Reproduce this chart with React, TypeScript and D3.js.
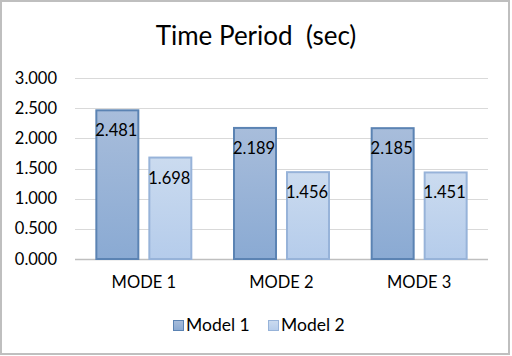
import React from "react";
import * as d3 from "d3";

const categories = ["MODE 1", "MODE 2", "MODE 3"];
const seriesNames = ["Model 1", "Model 2"];
const model1 = [2.481, 2.189, 2.185];
const model2 = [1.698, 1.456, 1.451];
const yTicks = [0, 0.5, 1, 1.5, 2, 2.5, 3];
const title = "Time Period  (sec)";

const W = 512;
const H = 356;
const plot = { left: 75, right: 488, top: 78, bottom: 259 };
const FONT = "Lato, 'Liberation Sans', sans-serif";

const fills = [
  { top: "#a8bddb", bottom: "#8aaad3", stroke: "#5b83b3" },
  { top: "#cbdbef", bottom: "#b5cceb", stroke: "#97b3d9" },
];

export default function App() {
  const x0 = d3
    .scaleBand<string>()
    .domain(categories)
    .range([plot.left, plot.right])
    .paddingInner(0.2955)
    .paddingOuter(0.2955 / 2);
  const x1 = d3
    .scaleBand<string>()
    .domain(seriesNames)
    .range([0, x0.bandwidth()])
    .paddingInner(0.17)
    .paddingOuter(0);
  const y = d3.scaleLinear().domain([0, 3]).range([plot.bottom, plot.top]);
  const fmt = d3.format(".3f");
  const series = [model1, model2];

  return (
    <svg
      width={W}
      height={H}
      style={{ position: "absolute", left: 0, top: 0, display: "block" }}
      fontFamily={FONT}
    >
      <defs>
        {fills.map((f, i) => (
          <linearGradient key={i} id={`g${i}`} x1="0" y1="0" x2="0" y2="1">
            <stop offset="0%" stopColor={f.top} />
            <stop offset="100%" stopColor={f.bottom} />
          </linearGradient>
        ))}
      </defs>
      <rect x={0} y={0} width={W} height={H} fill="#ffffff" />
      <rect x={1} y={1} width={508} height={353} fill="#ffffff" stroke="#bfbfbf" strokeWidth={2} />
      <text
        x={256}
        y={45}
        textAnchor="middle"
        fontSize={26}
        fill="#000"
        style={{ whiteSpace: "pre" }}
      >
        {title}
      </text>
      {yTicks.map((t) => (
        <g key={t}>
          <line
            x1={plot.left}
            x2={plot.right}
            y1={Math.round(y(t)) + 0.5}
            y2={Math.round(y(t)) + 0.5}
            stroke={t === 0 ? "#bfbfbf" : "#d9d9d9"}
            strokeWidth={t === 0 ? 1.5 : 1}
          />
          <text x={57} y={y(t) + 5.5} textAnchor="end" fontSize={16.5} fill="#000">
            {fmt(t)}
          </text>
        </g>
      ))}
      {categories.map((c, ci) => (
        <g key={c} transform={`translate(${x0(c)},0)`}>
          {seriesNames.map((s, si) => {
            const v = series[si][ci];
            const bx = x1(s)!;
            const bw = x1.bandwidth();
            const top = y(v);
            return (
              <g key={s}>
                <rect
                  x={bx + 1}
                  y={top + 1}
                  width={bw - 2}
                  height={plot.bottom - top - 1}
                  fill={`url(#g${si})`}
                  stroke={fills[si].stroke}
                  strokeWidth={2}
                />
                <text x={bx + bw / 2 - 1} y={top + 27} textAnchor="middle" fontSize={16.5} fill="#000">
                  {fmt(v)}
                </text>
              </g>
            );
          })}
          <text x={x0.bandwidth() / 2} y={288} textAnchor="middle" fontSize={16.5} fill="#000">
            {c}
          </text>
        </g>
      ))}
      {seriesNames.map((s, si) => {
        const lx = [173, 268][si];
        return (
          <g key={s}>
            <rect
              x={lx + 0.5}
              y={320.5}
              width={10}
              height={10}
              fill={`url(#g${si})`}
              stroke={fills[si].stroke}
              strokeWidth={1}
            />
            <text x={lx + 13} y={331} fontSize={17.5} fill="#000">
              {s}
            </text>
          </g>
        );
      })}
    </svg>
  );
}
